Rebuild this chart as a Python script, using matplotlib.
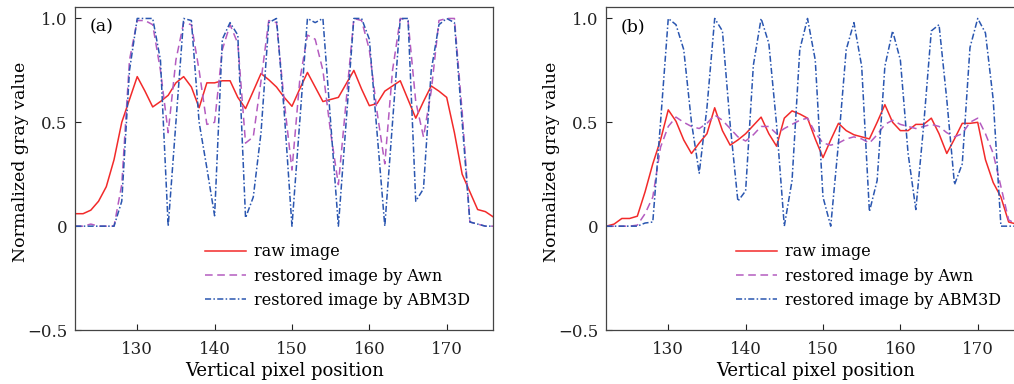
import matplotlib
matplotlib.use("Agg")
import matplotlib.pyplot as plt
import numpy as np

# pixel positions along the vertical profile
pos = np.arange(122, 177)

# panel (a)
raw_a = [0.06, 0.06, 0.077, 0.12, 0.19, 0.32, 0.50, 0.61, 0.72, 0.65,
         0.574, 0.60, 0.63, 0.69, 0.72, 0.67, 0.57, 0.69, 0.69, 0.70,
         0.70, 0.62, 0.566, 0.65, 0.735, 0.705, 0.67, 0.62, 0.577, 0.66,
         0.74, 0.67, 0.60, 0.61, 0.62, 0.685, 0.75, 0.66, 0.58, 0.59,
         0.65, 0.675, 0.70, 0.61, 0.52, 0.60, 0.675, 0.65, 0.62, 0.45,
         0.25, 0.165, 0.08, 0.07, 0.045]
awn_a = [0.0, 0.0, 0.01, 0.0, 0.0, 0.0, 0.2, 0.8, 0.99, 0.99,
         0.97, 0.75, 0.45, 0.8, 0.98, 0.97, 0.75, 0.49, 0.5, 0.85,
         0.97, 0.88, 0.4, 0.43, 0.7, 0.99, 0.98, 0.6, 0.27, 0.7,
         0.92, 0.9, 0.75, 0.45, 0.2, 0.6, 1.0, 0.99, 0.85, 0.55,
         0.3, 0.75, 1.0, 0.99, 0.6, 0.43, 0.65, 0.99, 1.0, 1.0,
         0.55, 0.02, 0.01, 0.0, 0.0]
abm_a = [0.0, 0.0, 0.0, 0.0, 0.0, 0.0, 0.12, 0.75, 1.0, 1.0,
         1.0, 0.8, 0.0, 0.5, 1.0, 0.99, 0.5, 0.28, 0.05, 0.9,
         0.98, 0.92, 0.04, 0.14, 0.45, 0.98, 1.0, 0.55, 0.0, 0.5,
         1.0, 0.98, 1.0, 0.5, 0.0, 0.5, 1.0, 1.0, 0.9, 0.45,
         0.0, 0.5, 1.0, 1.0, 0.12, 0.18, 0.75, 0.97, 1.0, 0.98,
         0.5, 0.02, 0.01, 0.0, 0.0]

# panel (b)
raw_b = [0.0, 0.01, 0.037, 0.037, 0.048, 0.165, 0.30, 0.415, 0.56, 0.505,
         0.415, 0.35, 0.40, 0.445, 0.57, 0.46, 0.39, 0.415, 0.445, 0.485,
         0.525, 0.445, 0.385, 0.52, 0.555, 0.54, 0.52, 0.42, 0.33, 0.415,
         0.495, 0.46, 0.44, 0.43, 0.42, 0.50, 0.585, 0.50, 0.46, 0.46,
         0.49, 0.49, 0.52, 0.445, 0.35, 0.42, 0.495, 0.495, 0.50, 0.32,
         0.21, 0.14, 0.02, 0.01, 0.01]
awn_b = [0.0, 0.0, 0.0, 0.0, 0.005, 0.06, 0.14, 0.38, 0.48, 0.525,
         0.50, 0.48, 0.47, 0.495, 0.535, 0.51, 0.47, 0.43, 0.41, 0.44,
         0.48, 0.48, 0.445, 0.47, 0.49, 0.51, 0.52, 0.45, 0.40, 0.39,
         0.40, 0.42, 0.43, 0.42, 0.40, 0.44, 0.49, 0.51, 0.49, 0.48,
         0.47, 0.48, 0.49, 0.48, 0.45, 0.43, 0.445, 0.50, 0.52, 0.445,
         0.35, 0.19, 0.03, 0.01, 0.01]
abm_b = [0.0, 0.0, 0.0, 0.0, 0.0, 0.015, 0.02, 0.5, 1.0, 0.97,
         0.85, 0.5, 0.255, 0.57, 1.0, 0.94, 0.49, 0.12, 0.17, 0.775,
         1.0, 0.88, 0.49, 0.0, 0.22, 0.85, 1.0, 0.80, 0.14, 0.0,
         0.4, 0.85, 0.98, 0.77, 0.07, 0.22, 0.77, 0.94, 0.80, 0.35,
         0.08, 0.48, 0.94, 0.97, 0.61, 0.20, 0.30, 0.86, 1.0, 0.93,
         0.61, 0.0, 0.0, 0.0, 0.0]

labels = ["raw image", "restored image by Awn", "restored image by ABM3D"]
yticks = [-0.5, 0, 0.5, 1.0]
yticklabels = ["\u22120.5", "0", "0.5", "1.0"]
xticks = [130, 140, 150, 160, 170]

plt.rcParams['font.family'] = ['DejaVu Serif']

fig = plt.figure(figsize=(10.14, 3.84), dpi=100)
ax_a = fig.add_axes([0.0743, 0.1406, 0.412, 0.840])
ax_b = fig.add_axes([0.598, 0.1406, 0.412, 0.840])

for ax, data, tag in [(ax_a, (raw_a, awn_a, abm_a), "(a)"),
                      (ax_b, (raw_b, awn_b, abm_b), "(b)")]:
    ax.plot(pos, data[0], color='#f22a2a', lw=1.1, ls='-', label=labels[0])
    ax.plot(pos, data[1], color='#b45cc0', lw=1.1, ls=(0, (5, 3)), label=labels[1])
    ax.plot(pos, data[2], color='#2a56b0', lw=1.1, ls=(0, (4, 1.5, 1, 1.5)), label=labels[2])
    ax.set_xlim(122, 176)
    ax.set_ylim(-0.5, 1.053)
    ax.set_xticks(xticks)
    ax.set_yticks(yticks)
    ax.set_yticklabels(yticklabels)
    ax.tick_params(direction='in', length=4, labelsize=12, colors='#222222')
    ax.tick_params(axis='x', pad=8)
    ax.tick_params(axis='y', pad=6)
    for sp in ax.spines.values():
        sp.set_color('#444444')
        sp.set_linewidth(0.9)
    ax.set_xlabel("Vertical pixel position", fontsize=13, labelpad=3)
    ax.set_ylabel("Normalized gray value", fontsize=12.5, labelpad=2)
    ax.yaxis.set_label_coords(-0.11, 0.52)
    ax.text(0.035, 0.94, tag, transform=ax.transAxes, ha='left', va='center', fontsize=12.5)
    ax.legend(loc='center left', bbox_to_anchor=(0.31, 0.167), frameon=False,
              fontsize=11.5, borderpad=0, borderaxespad=0, handlelength=2.6,
              handletextpad=0.5, labelspacing=0.45)

fig.savefig("out.png", dpi=100)
